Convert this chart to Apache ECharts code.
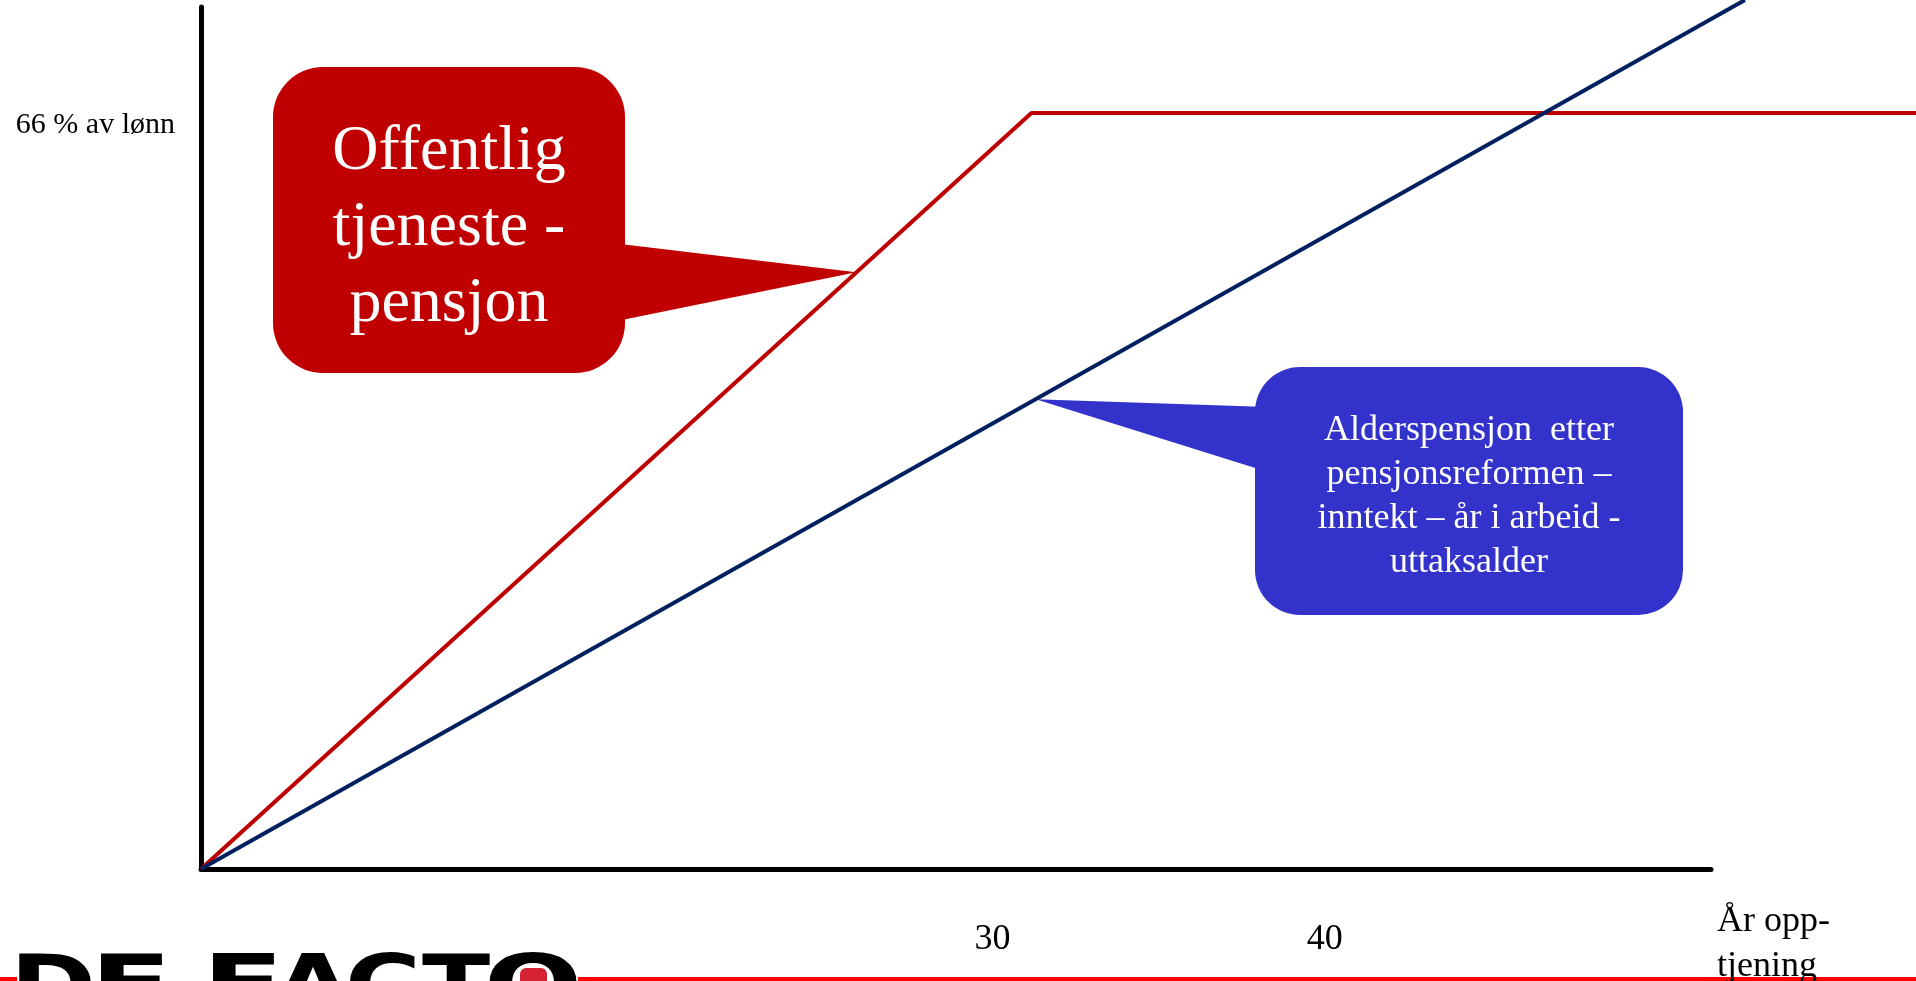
<!DOCTYPE html>
<html><head><meta charset="utf-8">
<script src="https://cdn.jsdelivr.net/npm/echarts@6/dist/echarts.min.js"></script>
<style>html,body{margin:0;padding:0;background:#fff;overflow:hidden}#c{width:1916px;height:981px}</style>
</head><body><div id="c"></div>
<script>
// ---- data ----
const xTickValues = [30, 40];
const yTickValues = [66];
const yTickLabels = ['66 % av lønn'];
const xAxisName = 'År opp-\ntjening';
const xRange = [6.17, 51.63];       // visible axis extent (years)
const yRange = [0, 75.25];          // visible axis extent (% of salary)
const plotXRange = [6.17, 57.8];    // lines run on to the page edge
const plotYRange = [0, 75.86];
const offentligX = [6.17, 31.17, 57.8];
const offentligY = [0, 66, 66];
const alderX = [6.17, 52.65];
const alderY = [0, 75.86];
const redCalloutAt = [25.9, 52.1];
const blueCalloutAt = [31.3, 41.0];
const redCalloutText = 'Offentlig\ntjeneste -\npensjon';
const blueCalloutText = 'Alderspensjon  etter\npensjonsreformen –\ninntekt – år i arbeid -\nuttaksalder';
const logoLetters = ['D', 'E', 'F', 'A', 'C', 'T', 'O'];

const serif = '"Liberation Serif", "Times New Roman", serif';
const chart = echarts.init(document.getElementById('c'), null, {renderer: 'canvas'});

chart.setOption({
  animation: false,
  backgroundColor: '#fff',
  grid: [
    {left: 201, right: 205, top: 7, bottom: 112, containLabel: false, outerBoundsMode: 'none'},
    {left: 201, right: 0, top: 0, bottom: 112, containLabel: false, outerBoundsMode: 'none'}
  ],
  xAxis: [{
    gridIndex: 0, type: 'value', min: xRange[0], max: xRange[1],
    axisLine: {show: true, onZero: false, lineStyle: {color: '#000', width: 5}},
    axisTick: {show: false},
    splitLine: {show: false},
    axisLabel: {customValues: xTickValues, fontSize: 36, fontFamily: serif, color: '#000', margin: 53},
    name: xAxisName, nameLocation: 'end', nameGap: 6,
    nameTextStyle: {fontSize: 36, fontFamily: serif, color: '#000', align: 'left', verticalAlign: 'top', lineHeight: 45, padding: [30, 0, 0, 0]}
  }, {
    gridIndex: 1, type: 'value', min: plotXRange[0], max: plotXRange[1], show: false
  }],
  yAxis: [{
    gridIndex: 0, type: 'value', min: yRange[0], max: yRange[1],
    axisLine: {show: true, onZero: false, lineStyle: {color: '#000', width: 5}},
    axisTick: {show: false},
    splitLine: {show: false},
    axisLabel: {
      customValues: yTickValues,
      formatter: v => { const i = yTickValues.indexOf(v); return i >= 0 ? yTickLabels[i] : ''; },
      fontSize: 30, fontFamily: serif, color: '#000', margin: 26, verticalAlign: 'top', lineHeight: 24
    }
  }, {
    gridIndex: 1, type: 'value', min: plotYRange[0], max: plotYRange[1], show: false
  }],
  series: [
    {type: 'line', name: 'Offentlig tjenestepensjon', xAxisIndex: 1, yAxisIndex: 1, showSymbol: false, symbol: 'none',
     data: offentligX.map((x, i) => [x, offentligY[i]]),
     lineStyle: {color: '#C00000', width: 4}, z: 3},
    {type: 'line', name: 'Alderspensjon', xAxisIndex: 1, yAxisIndex: 1, showSymbol: false, symbol: 'none',
     data: alderX.map((x, i) => [x, alderY[i]]),
     lineStyle: {color: '#002060', width: 4}, z: 4}
  ]
});

const redTip = chart.convertToPixel({xAxisIndex: 1, yAxisIndex: 1}, redCalloutAt);
const blueTip = chart.convertToPixel({xAxisIndex: 1, yAxisIndex: 1}, blueCalloutAt);

const letterPos = [[53, 1.3], [131, 1.5], [243, 1.5], [313, 1.25], [383, 1.3], [456, 1.25], [533, 1.45]];
const logoEls = logoLetters.map((ch, i) => ({
  type: 'text', x: letterPos[i][0], y: 991, scaleX: letterPos[i][1], z: 30,
  style: {text: ch, font: 'bold 80px "DejaVu Sans"', fill: '#000', align: 'center', verticalAlign: 'middle', textAlign: 'center', textVerticalAlign: 'middle'}
}));

chart.setOption({
  graphic: [
    // red callout
    {type: 'rect', z: 1, shape: {x: 273, y: 67, width: 352, height: 306, r: 50}, style: {fill: '#C00000'}},
    {type: 'polygon', z: 1, shape: {points: [[612, 243], redTip, [612, 322]]}, style: {fill: '#C00000'}},
    {type: 'text', z: 2, x: 449, y: 228,
     style: {text: redCalloutText, font: '64px ' + serif, fill: '#fff', align: 'center', verticalAlign: 'middle', textAlign: 'center', textVerticalAlign: 'middle', lineHeight: 76}},
    // blue callout
    {type: 'rect', z: 1, shape: {x: 1255, y: 367, width: 428, height: 248, r: 45}, style: {fill: '#3333CC'}},
    {type: 'polygon', z: 1, shape: {points: [[1268, 407], blueTip, [1268, 472]]}, style: {fill: '#3333CC'}},
    {type: 'text', z: 2, x: 1469, y: 497,
     style: {text: blueCalloutText, font: '36px ' + serif, fill: '#fff', align: 'center', verticalAlign: 'middle', textAlign: 'center', textVerticalAlign: 'middle', lineHeight: 44}},
    // bottom red rule & logo
    {type: 'line', z: 0, shape: {x1: 0, y1: 979, x2: 1916, y2: 979}, style: {stroke: '#FF0000', lineWidth: 4}},
    {type: 'rect', z: 29, shape: {x: 17, y: 935, width: 561, height: 46}, style: {fill: '#fff'}},
    ...logoEls,
    {type: 'rect', z: 31, shape: {x: 520, y: 968, width: 27, height: 20, r: 6}, style: {fill: '#D42233'}}
  ]
});
</script>
</body></html>
